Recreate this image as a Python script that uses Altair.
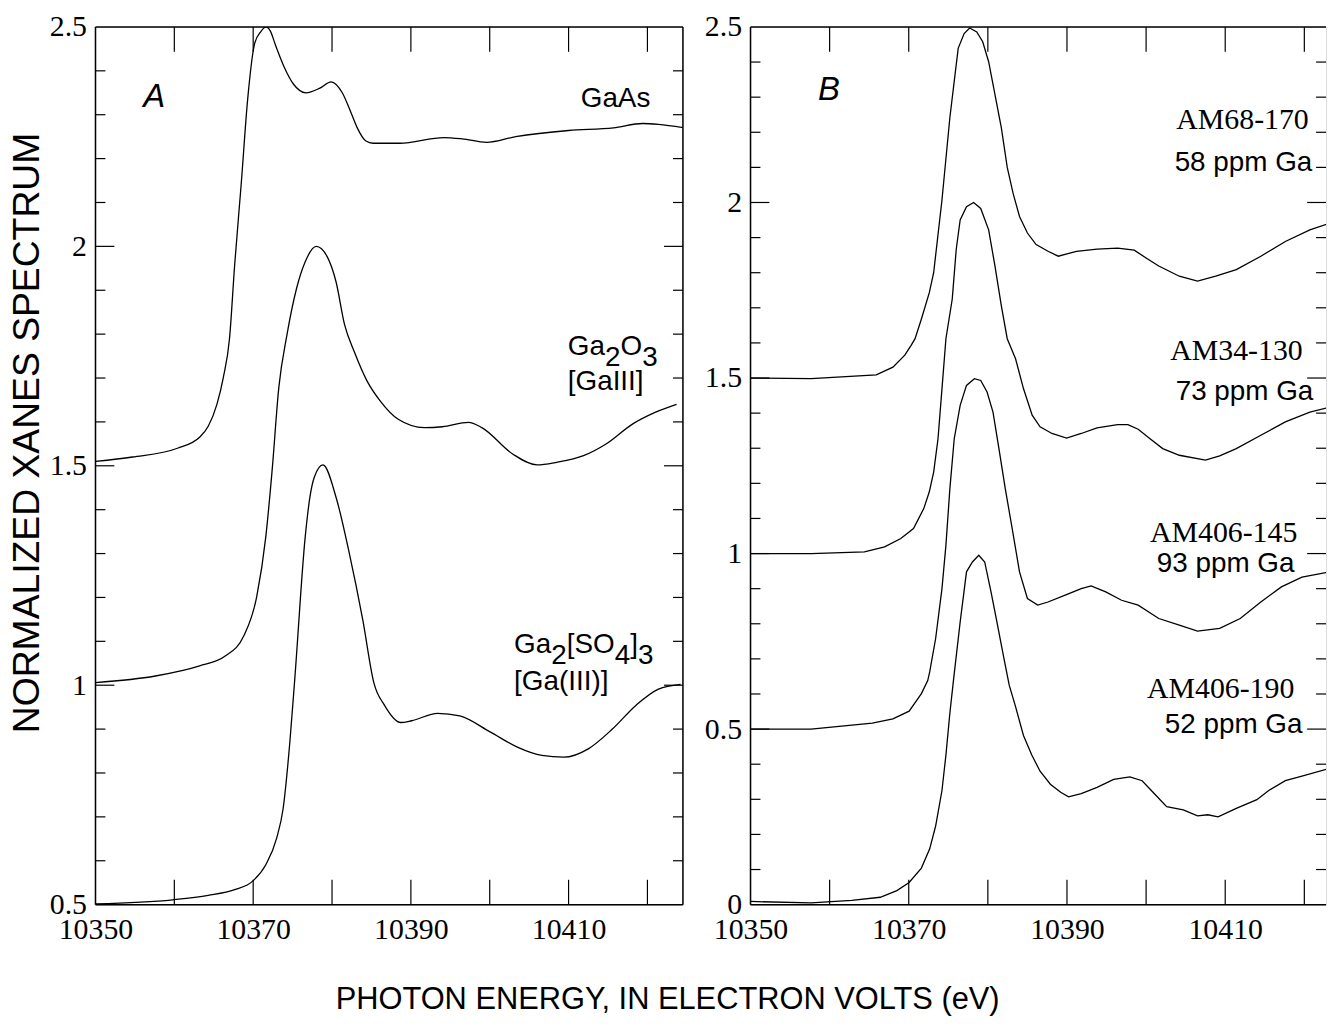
import altair as alt
import pandas as pd

# ---------------- Panel A: reference spectra ----------------
GAAS_E = [10350, 10354.7, 10360.4, 10363.2, 10364.3, 10365.4, 10366.2, 10367.0, 10367.65,
          10368.5, 10369.3, 10370.2, 10371.0, 10371.6, 10372.2, 10372.8, 10373.9, 10375.1, 10376.7,
          10378.4, 10379.9, 10381.3, 10382.4, 10383.2, 10384.3, 10385.2, 10388.6, 10394.2, 10396.5,
          10399.6, 10403.3, 10410.0, 10415.7, 10419.4, 10421.4, 10424.8]
GAAS_V = [1.51, 1.52, 1.54, 1.565, 1.59, 1.64, 1.70, 1.79, 1.957,
          2.146, 2.335, 2.463, 2.49, 2.50, 2.49, 2.46, 2.41, 2.37, 2.35,
          2.36, 2.375, 2.35, 2.305, 2.27, 2.24, 2.235, 2.235, 2.248, 2.245,
          2.237, 2.25, 2.264, 2.27, 2.28, 2.278, 2.27]

GA2O3_E = [10350, 10357.6, 10363.2, 10366.5, 10368.8, 10370.45, 10371.6, 10372.4, 10373.25, 10374.3,
           10375.5, 10376.6, 10378.0, 10379.4, 10380.5, 10381.6, 10382.8, 10384.45, 10386.1, 10388.4,
           10391.7, 10394.0, 10397.3, 10399.0, 10402.9, 10406.0, 10408.5, 10411.9, 10414.7, 10418.1,
           10420.9, 10423.7]
GA2O3_V = [1.006, 1.021, 1.044, 1.067, 1.112, 1.202, 1.338, 1.489, 1.678, 1.80,
           1.904, 1.965, 2.0, 1.976, 1.92, 1.821, 1.761, 1.693, 1.648, 1.606,
           1.587, 1.589, 1.599, 1.587, 1.527, 1.502, 1.508, 1.523, 1.549, 1.595,
           1.621, 1.64]

GASO4_E = [10350, 10359.8, 10364.3, 10367.65, 10369.9, 10371.6, 10372.97, 10373.8, 10374.65, 10375.3,
           10376.6, 10377.2, 10377.75, 10378.85, 10380.5, 10382.2, 10383.9, 10385.3, 10386.7, 10388.7,
           10390.1, 10393.4, 10396.2, 10400.1, 10403.5, 10406.6, 10409.4, 10412.5, 10415.55, 10418.6,
           10421.4, 10424.2]
GASO4_V = [0.5015, 0.511, 0.521, 0.534, 0.553, 0.591, 0.651, 0.719, 0.870, 1.02,
           1.338, 1.429, 1.474, 1.502, 1.429, 1.30, 1.149, 1.006, 0.953, 0.915,
           0.919, 0.936, 0.930, 0.893, 0.859, 0.840, 0.836, 0.855, 0.900, 0.955,
           0.991, 1.002]

# ---------------- Panel B: samples ----------------
AM68_E = [10350, 10357.65, 10365.9, 10368.0, 10369.5, 10370.3, 10370.8, 10371.6, 10372.6, 10373.15,
          10374.2, 10375.2, 10376.25, 10377.0, 10377.7, 10378.6, 10379.35, 10380.1, 10380.9, 10381.7,
          10382.45, 10383.2, 10384.0, 10385.0, 10386.1, 10387.6, 10388.9, 10391.2, 10393.8, 10396.4,
          10398.5, 10400.0, 10401.6, 10404.2, 10406.5, 10408.8, 10411.4, 10414.5, 10417.6, 10420.7,
          10423.2]
AM68_V = [1.50, 1.498, 1.509, 1.531, 1.565, 1.593, 1.612, 1.668, 1.743, 1.80,
          2.007, 2.242, 2.439, 2.481, 2.497, 2.486, 2.458, 2.401, 2.307, 2.213,
          2.10, 2.025, 1.96, 1.913, 1.88, 1.861, 1.847, 1.861, 1.867, 1.87,
          1.864, 1.842, 1.819, 1.79, 1.776, 1.79, 1.809, 1.847, 1.889, 1.922,
          1.941]

AM34_E = [10350, 10357.65, 10364.4, 10366.95, 10369.0, 10370.6, 10371.9, 10372.6, 10373.15, 10373.7,
          10374.2, 10374.7, 10375.5, 10376.0, 10376.5, 10377.3, 10378.2, 10379.1, 10380.1, 10380.9,
          10381.7, 10382.45, 10383.5, 10384.5, 10385.6, 10386.6, 10388.1, 10389.95, 10391.8, 10393.8,
          10396.4, 10397.7, 10399.0, 10400.5, 10402.1, 10404.2, 10407.5, 10409.3, 10411.4, 10414.5,
          10417.6, 10420.7, 10423.2]
AM34_V = [1.0, 1.0, 1.005, 1.019, 1.043, 1.071, 1.128, 1.176, 1.232, 1.327,
          1.469, 1.612, 1.725, 1.866, 1.95, 1.988, 2.0, 1.983, 1.922, 1.819,
          1.706, 1.612, 1.555, 1.47, 1.394, 1.361, 1.342, 1.329, 1.342, 1.358,
          1.367, 1.367, 1.354, 1.327, 1.299, 1.28, 1.266, 1.278, 1.299, 1.337,
          1.375, 1.403, 1.417]

AM145_E = [10350, 10357.65, 10365.4, 10368.0, 10370.05, 10371.6, 10372.4, 10372.65, 10373.4, 10374.2,
           10374.7, 10375.2, 10375.75, 10376.5, 10377.3, 10378.3, 10379.1, 10379.9, 10380.65, 10381.4,
           10382.2, 10383.0, 10384.0, 10385.0, 10386.3, 10387.6, 10389.7, 10391.8, 10393.05, 10394.9,
           10396.9, 10399.0, 10401.6, 10404.2, 10406.5, 10409.3, 10411.9, 10414.5, 10417.1, 10419.7,
           10423.2]
AM145_V = [0.5, 0.5, 0.517, 0.529, 0.551, 0.601, 0.638, 0.663, 0.758, 0.90,
           1.024, 1.185, 1.327, 1.422, 1.479, 1.498, 1.493, 1.46, 1.403, 1.299,
           1.185, 1.081, 0.948, 0.872, 0.853, 0.862, 0.881, 0.90, 0.908, 0.891,
           0.867, 0.853, 0.815, 0.796, 0.779, 0.787, 0.815, 0.862, 0.905, 0.933,
           0.948]

AM190_E = [10350, 10357.65, 10362.8, 10366.4, 10368.5, 10370.05, 10371.6, 10372.65, 10373.4, 10374.2,
           10374.7, 10375.2, 10375.65, 10376.5, 10377.3, 10378.05, 10378.85, 10379.6, 10380.4, 10381.15,
           10381.95, 10382.7, 10383.5, 10384.5, 10385.55, 10386.6, 10387.9, 10389.2, 10390.2, 10391.8,
           10393.8, 10395.9, 10397.95, 10399.5, 10401.05, 10402.6, 10404.7, 10406.5, 10407.8, 10409.1,
           10411.4, 10414.0, 10415.5, 10417.6, 10419.7, 10423.2]
AM190_V = [0.009, 0.005, 0.012, 0.021, 0.04, 0.063, 0.104, 0.159, 0.224, 0.325,
           0.426, 0.546, 0.638, 0.805, 0.948, 0.976, 0.995, 0.976, 0.891, 0.805,
           0.711, 0.625, 0.564, 0.482, 0.426, 0.38, 0.343, 0.32, 0.307, 0.316,
           0.334, 0.357, 0.364, 0.353, 0.316, 0.279, 0.27, 0.253, 0.256, 0.25,
           0.274, 0.299, 0.325, 0.353, 0.366, 0.388]

# ---------------- axes / ticks ----------------
X_DOMAIN_A = [10350, 10424.5]
X_DOMAIN_B = [10350, 10422.74]
Y_DOMAIN_A = [0.5, 2.5]
Y_DOMAIN_B = [0.0, 2.5]
X_LABELS = [10350, 10370, 10390, 10410]
X_TICKS = [10360, 10370, 10380, 10390, 10400, 10410, 10420]
Y_LABELS_A = [0.5, 1.0, 1.5, 2.0, 2.5]
Y_LABELS_B = [0.0, 0.5, 1.0, 1.5, 2.0, 2.5]
Y_MAJOR_A = [1.0, 1.5, 2.0]
Y_MINOR_A = [0.6, 0.7, 0.8, 0.9, 1.1, 1.2, 1.3, 1.4, 1.6, 1.7, 1.8, 1.9, 2.1, 2.2, 2.3, 2.4]
Y_MAJOR_B = [0.5, 1.0, 1.5, 2.0]
Y_MINOR_B = [0.1, 0.2, 0.3, 0.4, 0.6, 0.7, 0.8, 0.9, 1.1, 1.2, 1.3, 1.4, 1.6, 1.7, 1.8, 1.9,
             2.1, 2.2, 2.3, 2.4]

# ---------------- annotations ----------------
A_LABEL = ("A", 10357.44, 2.3165)
B_LABEL = ("B", 10359.92, 2.2933)
GAAS_LABEL = ("GaAs", 10420.37, 2.3165)
GA2O3_POS = (10409.9, 1.7526)
GA2O3_LINE2 = ("[GaIII]", 10409.9, 1.6733)
GASO4_POS = (10403.09, 1.073)
GASO4_LINE2 = ("[Ga(III)]", 10403.09, 0.9893)
SAMPLE_NAMES = ["AM68-170", "AM34-130", "AM406-145", "AM406-190"]
SAMPLE_NAME_E = [10412.19, 10411.43, 10409.8, 10409.42]
SAMPLE_NAME_V = [2.2084, 1.5515, 1.0334, 0.5889]
SAMPLE_PPM = ["58 ppm Ga", "73 ppm Ga", "93 ppm Ga", "52 ppm Ga"]
SAMPLE_PPM_E = [10412.31, 10412.44, 10410.05, 10411.06]
SAMPLE_PPM_V = [2.0895, 1.4383, 0.9485, 0.4898]

W_A, W_B, H = 591, 579, 883
SANS = "Liberation Sans"
SERIF = "Liberation Serif"
TICK_LEN, MINOR_LEN, MAJOR_LEN = 25, 10, 19

X_AXIS = alt.Axis(values=X_LABELS, format="d", labelFont=SERIF, labelFontSize=30,
                  labelColor="black", ticks=False, tickSize=0, domain=False, grid=False,
                  labelFlush=False, labelPadding=10, title=None)


def y_axis(labels, title):
    kw = dict(values=labels, format="~g", labelFont=SERIF, labelFontSize=30,
              labelColor="black", ticks=False, tickSize=0, domain=False, grid=False,
              labelPadding=9)
    if title:
        kw.update(title=title, titleFont=SANS, titleFontSize=37.5, titleFontWeight="normal",
                  titleColor="black", titlePadding=3, titleY=408)
    else:
        kw.update(title=None)
    return alt.Axis(**kw)


class Panel:
    def __init__(self, xd, yd, ylabels, ytitle, W):
        self.xs = alt.Scale(domain=xd, nice=False, zero=False)
        self.ys = alt.Scale(domain=yd, nice=False, zero=False)
        self.yax = y_axis(ylabels, ytitle)
        self.W = W

    def X(self):
        return alt.X("E:Q", scale=self.xs, axis=X_AXIS)

    def Y(self):
        return alt.Y("v:Q", scale=self.ys, axis=self.yax)

    def lines(self, series, interp):
        rows = []
        for name, es, vs in series:
            for e, v in zip(es, vs):
                rows.append({"E": e, "v": v, "s": name})
        return alt.Chart(pd.DataFrame(rows)).mark_line(
            color="black", strokeWidth=1.3, clip=True, interpolate=interp
        ).encode(x=self.X(), y=self.Y(), detail="s:N")

    def ticks(self, minor, major, right_frame=True):
        W = self.W
        out = []
        xt = pd.DataFrame({"E": X_TICKS})
        for y0, y1 in ((0, TICK_LEN), (H, H - TICK_LEN)):
            out.append(alt.Chart(xt).mark_rule(color="black", strokeWidth=1.2).encode(
                x=self.X(), y=alt.value(y0), y2=alt.value(y1)))
        for vals, ln in ((minor, MINOR_LEN), (major, MAJOR_LEN)):
            d = pd.DataFrame({"v": vals})
            for x0, x1 in ((0, ln), (W, W - ln)):
                out.append(alt.Chart(d).mark_rule(color="black", strokeWidth=1.2).encode(
                    y=self.Y(), x=alt.value(x0), x2=alt.value(x1)))
        one = pd.DataFrame({"k": [0]})
        frame = [
            dict(x=alt.value(0), x2=alt.value(W), y=alt.value(0)),
            dict(x=alt.value(0), x2=alt.value(W), y=alt.value(H)),
            dict(x=alt.value(0), y=alt.value(0), y2=alt.value(H)),
        ]
        if right_frame:
            frame.append(dict(x=alt.value(W), y=alt.value(0), y2=alt.value(H)))
        for f in frame:
            out.append(alt.Chart(one).mark_rule(color="black", strokeWidth=1.5).encode(**f))
        return out

    def text(self, t, e, v, font, size, align="left", dx=0, dy=0, style="normal"):
        d = pd.DataFrame({"E": [e], "v": [v], "t": [t]})
        return alt.Chart(d).mark_text(
            font=font, fontSize=size, align=align, baseline="alphabetic", dx=dx, dy=dy,
            color="black", fontStyle=style
        ).encode(x=self.X(), y=self.Y(), text="t:N")


# ---------- Panel A ----------
pA = Panel(X_DOMAIN_A, Y_DOMAIN_A, Y_LABELS_A, "NORMALIZED XANES SPECTRUM", W_A)
layersA = [pA.lines([("GaAs", GAAS_E, GAAS_V), ("Ga2O3", GA2O3_E, GA2O3_V),
                     ("Ga2SO43", GASO4_E, GASO4_V)], "monotone")]
layersA += pA.ticks(Y_MINOR_A, Y_MAJOR_A)
layersA.append(pA.text(A_LABEL[0], A_LABEL[1], A_LABEL[2], SANS, 33, "center", style="italic"))
layersA.append(pA.text(GAAS_LABEL[0], GAAS_LABEL[1], GAAS_LABEL[2], SANS, 28, "right"))
SUB = 11
for piece, dx, dy in (("Ga", 0, 0), ("2", 37.4, SUB), ("O", 53.0, 0), ("3", 74.8, SUB)):
    layersA.append(pA.text(piece, GA2O3_POS[0], GA2O3_POS[1], SANS, 28, dx=dx, dy=dy))
layersA.append(pA.text(GA2O3_LINE2[0], GA2O3_LINE2[1], GA2O3_LINE2[2], SANS, 28))
for piece, dx, dy in (("Ga", 0, 0), ("2", 37.4, SUB), ("[SO", 53.0, 0), ("4", 101.3, SUB),
                      ("]", 116.9, 0), ("3", 124.7, SUB)):
    layersA.append(pA.text(piece, GASO4_POS[0], GASO4_POS[1], SANS, 28, dx=dx, dy=dy))
layersA.append(pA.text(GASO4_LINE2[0], GASO4_LINE2[1], GASO4_LINE2[2], SANS, 28))
panelA = alt.layer(*layersA).properties(width=W_A, height=H)

# ---------- Panel B ----------
pB = Panel(X_DOMAIN_B, Y_DOMAIN_B, Y_LABELS_B, None, W_B)
layersB = [pB.lines([("AM68-170", AM68_E, AM68_V), ("AM34-130", AM34_E, AM34_V),
                     ("AM406-145", AM145_E, AM145_V), ("AM406-190", AM190_E, AM190_V)], "linear")]
layersB += pB.ticks(Y_MINOR_B, Y_MAJOR_B, right_frame=False)
layersB.append(pB.text(B_LABEL[0], B_LABEL[1], B_LABEL[2], SANS, 33, "center", style="italic"))
for t, e, v in zip(SAMPLE_NAMES, SAMPLE_NAME_E, SAMPLE_NAME_V):
    layersB.append(pB.text(t, e, v, SERIF, 30, "center"))
for t, e, v in zip(SAMPLE_PPM, SAMPLE_PPM_E, SAMPLE_PPM_V):
    layersB.append(pB.text(t, e, v, SANS, 28, "center"))
panelB = alt.layer(*layersB).properties(width=W_B, height=H)

chart = alt.hconcat(
    panelA, panelB, spacing=19,
    padding={"left": 0, "top": 0, "right": 0, "bottom": 0},
    title=alt.TitleParams("PHOTON ENERGY, IN ELECTRON VOLTS (eV)", orient="bottom",
                          anchor="middle", font=SANS, fontSize=31, fontWeight="normal",
                          color="black", offset=41),
).configure_view(stroke=None).configure(background="white")

chart.save("out.html", embed_options={"renderer": "svg", "actions": False})
